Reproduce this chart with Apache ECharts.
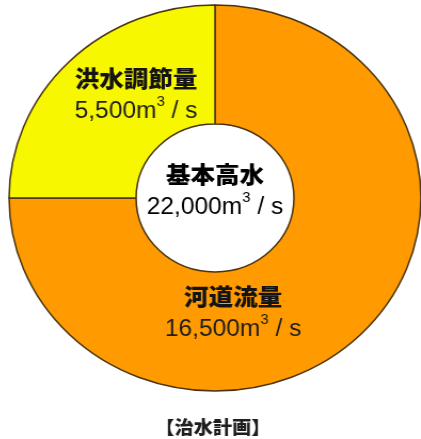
<!DOCTYPE html>
<html>
<head>
<meta charset="utf-8">
<script src="https://cdn.jsdelivr.net/npm/echarts@6/dist/echarts.min.js"></script>
<style>
  html, body { margin: 0; padding: 0; background: #ffffff; overflow: hidden; }
  #chart {
    width: 421px; height: 439px;
    transform: scaleX(1.067);
    transform-origin: 215px 0;
  }
</style>
</head>
<body>
<div id="chart"></div>
<script>
// Flood-control plan: split of the design flood discharge (m3/s)
const categories = ['河道流量', '洪水調節量'];
const flows = [16500, 5500];
const sliceColors = ['#ff9a00', '#f7f700'];
const totalName = '基本高水';
const planTitle = '【治水計画】';

const total = flows.reduce((a, b) => a + b, 0);
const fmt = v => v.toLocaleString('en-US');

const jpFont = '"Noto Sans CJK JP", sans-serif';
const numFont = '"Liberation Sans", Arial, sans-serif';

const rich = {
  name: { fontFamily: jpFont, fontWeight: 900, fontSize: 23, color: '#141414', lineHeight: 34, align: 'center' },
  num: { fontFamily: numFont, fontSize: 23, color: '#1e1e1e', lineHeight: 34 },
  sup: { fontFamily: numFont, fontSize: 14, color: '#1e1e1e', lineHeight: 34, verticalAlign: 'top', padding: [0, 0, 12, 0] }
};
const flowText = (name, v) => `{name|${name}}\n{num|${fmt(v)}m}{sup|3}{num| / s}`;

// label anchor points for each slice (chart pixels)
const labelSpots = [[232, 313], [141, 95]];

const chart = echarts.init(document.getElementById('chart'), null, { renderer: 'canvas' });
chart.setOption({
  animation: false,
  backgroundColor: '#ffffff',
  series: [{
    type: 'pie',
    center: [215, 198],
    radius: [74, 193],
    startAngle: 90,
    clockwise: true,
    silent: true,
    itemStyle: { borderColor: '#4a3414', borderWidth: 1.5 },
    label: {
      show: true,
      position: 'inside',
      formatter: p => flowText(p.name, p.value),
      rich: rich
    },
    labelLine: { show: false },
    labelLayout: p => ({
      x: labelSpots[p.dataIndex][0],
      y: labelSpots[p.dataIndex][1],
      align: 'center',
      verticalAlign: 'middle'
    }),
    data: categories.map((c, i) => ({ name: c, value: flows[i], itemStyle: { color: sliceColors[i] } }))
  }],
  graphic: [
    {
      type: 'text',
      x: 215, y: 191,
      style: {
        text: flowText(totalName, total),
        rich: rich,
        align: 'center',
        verticalAlign: 'middle'
      }
    },
    {
      type: 'text',
      x: 213, y: 427,
      style: {
        text: planTitle,
        fontFamily: jpFont,
        fontWeight: 900,
        fontSize: 18,
        fill: '#1e1e1e',
        align: 'center',
        verticalAlign: 'middle'
      }
    }
  ]
});
</script>
</body>
</html>
